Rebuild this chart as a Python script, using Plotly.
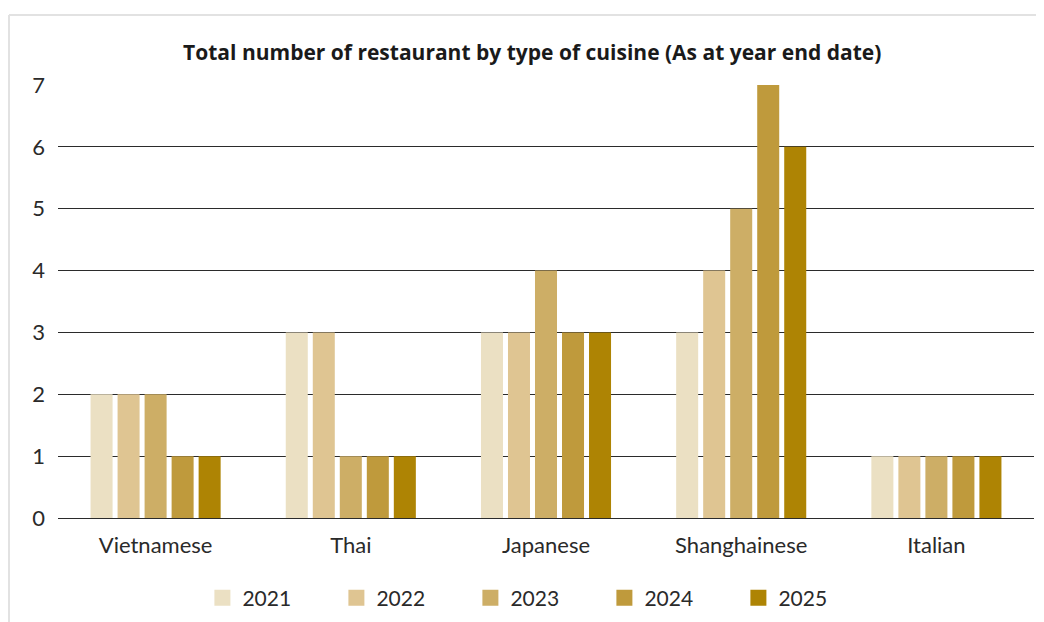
import plotly.graph_objects as go

cuisines = ["Vietnamese", "Thai", "Japanese", "Shanghainese", "Italian"]
years = ["2021", "2022", "2023", "2024", "2025"]
counts = {
    "2021": [2, 3, 3, 3, 1],
    "2022": [2, 3, 3, 4, 1],
    "2023": [2, 1, 4, 5, 1],
    "2024": [1, 1, 3, 7, 1],
    "2025": [1, 1, 3, 6, 1],
}
colors = ["#EBE0C3", "#DFC592", "#CDAE66", "#BF9A3C", "#AE8404"]

fig = go.Figure()
for yr, col in zip(years, colors):
    fig.add_trace(go.Bar(x=cuisines, y=counts[yr], name=yr, marker_color=col,
                         marker_line_width=0, legendgroup=yr, showlegend=False))
    # legend-only entry with a bigger square swatch
    fig.add_trace(go.Scatter(x=[None], y=[None], mode="markers", name=yr, legendgroup=yr,
                             marker={"symbol": "square", "size": 20, "color": col}))

# the page body has an 8px margin, so the figure is 8px smaller than the window
fig.update_layout(
    width=1036, height=614,
    margin={"l": 50, "r": 10, "t": 77, "b": 104},
    paper_bgcolor="white", plot_bgcolor="white",
    font={"family": "Lato", "size": 22, "color": "#2a2a2a"},
    title={"text": "<b>Total number of restaurant by type of cuisine (As at year end date)</b>",
           "x": 0.506, "xanchor": "center", "y": 0.928, "yanchor": "middle",
           "font": {"family": "Open Sans", "size": 21, "color": "#1a1a1a"}},
    barmode="group", bargap=0.308, bargroupgap=0.185,
    legend={"orientation": "h", "xref": "container", "x": 0.511, "xanchor": "center",
            "yref": "container", "y": 0.039, "yanchor": "middle",
            "entrywidth": 89, "font": {"size": 21}},
)
fig.update_yaxes(range=[0, 7], dtick=1, showgrid=True, gridcolor="#2b2b2b", gridwidth=1,
                 zeroline=True, zerolinecolor="#2b2b2b", zerolinewidth=1,
                 showline=False, ticklabelstandoff=12)
fig.update_xaxes(showline=False, ticklabelstandoff=12)

# light frame (top and left edges)
fx = -49 / 976
fy = 1 + 70 / 433
fig.add_shape(type="line", xref="paper", yref="paper", x0=fx, x1=1.02, y0=fy, y1=fy,
              line={"color": "#e2e2e2", "width": 2})
fig.add_shape(type="line", xref="paper", yref="paper", x0=fx, x1=fx, y0=fy, y1=-0.25,
              line={"color": "#e2e2e2", "width": 2})

fig.write_html("out.html")
